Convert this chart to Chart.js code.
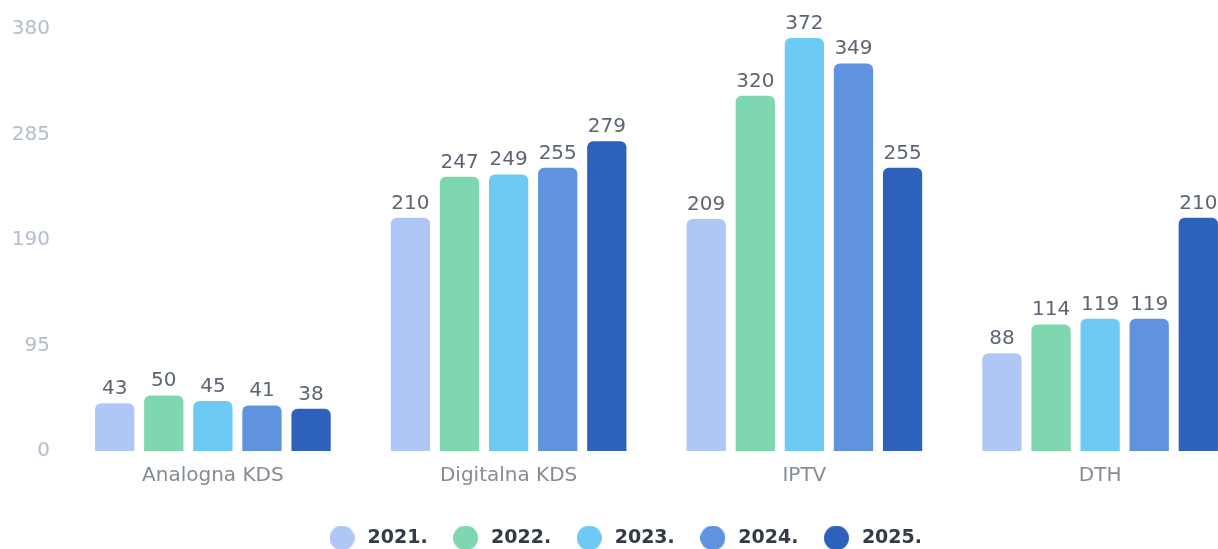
<!DOCTYPE html>
<html>
<head>
<meta charset="utf-8">
<script src="https://cdn.jsdelivr.net/npm/chart.js@4/dist/chart.umd.min.js"></script>
<style>
  html, body { margin: 0; padding: 0; background: #fff; overflow: hidden; }
  #wrap { width: 1260px; height: 549px; position: relative; }
</style>
</head>
<body>
<div id="wrap"><canvas id="chart"></canvas></div>
<script>
const categories = ['Analogna KDS', 'Digitalna KDS', 'IPTV', 'DTH'];
const years = ['2021.', '2022.', '2023.', '2024.', '2025.'];
const values2021 = [43, 210, 209, 88];
const values2022 = [50, 247, 320, 114];
const values2023 = [45, 249, 372, 119];
const values2024 = [41, 255, 349, 119];
const values2025 = [38, 279, 255, 210];
const yTicks = [0, 95, 190, 285, 380];

const colors = ['#afc7f6', '#7ed7ae', '#6ccaf5', '#5f93e0', '#2e61bb'];
const series = [values2021, values2022, values2023, values2024, values2025];
const FONT = '"DejaVu Sans"';

// round legend dots, a bit bigger than the text would give
function dot(color) {
    const c = document.createElement('canvas');
    c.width = 25; c.height = 25;
    const g = c.getContext('2d');
    g.fillStyle = color;
    g.beginPath();
    g.arc(12.5, 12.5, 12.5, 0, Math.PI * 2);
    g.fill();
    return c;
}
const dots = colors.map(dot);

// values above each bar (no datalabels plugin available offline)
const valueLabels = {
    id: 'valueLabels',
    afterDatasetsDraw(chart) {
        const ctx = chart.ctx;
        ctx.save();
        ctx.font = '20px ' + FONT;
        ctx.fillStyle = '#5d6572';
        ctx.textAlign = 'center';
        ctx.textBaseline = 'alphabetic';
        chart.data.datasets.forEach((ds, i) => {
            chart.getDatasetMeta(i).data.forEach((bar, j) => {
                ctx.fillText(ds.data[j], bar.x, bar.y - 9);
            });
        });
        ctx.restore();
    }
};

new Chart(document.getElementById('chart'), {
    type: 'bar',
    data: {
        labels: categories,
        datasets: years.map((y, i) => ({
            label: y,
            data: series[i],
            backgroundColor: colors[i],
            borderWidth: 0,
            borderRadius: { topLeft: 6, topRight: 6 },
            borderSkipped: false,
            categoryPercentage: 0.83,
            barPercentage: 0.8,
        })),
    },
    options: {
        responsive: true,
        maintainAspectRatio: false,
        animation: false,
        layout: { padding: { top: 29, right: 12, bottom: -8.5 } },
        plugins: {
            legend: {
                position: 'bottom',
                labels: {
                    usePointStyle: true,
                    pointStyleWidth: 32,
                    padding: 22,
                    font: { family: FONT, size: 19, weight: 'bold' },
                    color: '#343b46',
                    generateLabels(chart) {
                        const items = Chart.defaults.plugins.legend.labels.generateLabels(chart);
                        items.forEach((it, i) => { it.pointStyle = dots[i]; });
                        return items;
                    },
                },
            },
            tooltip: { enabled: false },
        },
        scales: {
            y: {
                min: 0,
                max: 380,
                afterBuildTicks(scale) { scale.ticks = yTicks.map(v => ({ value: v })); },
                afterFit(scale) { scale.width = 65; },
                grid: { display: false, drawTicks: false },
                border: { display: false },
                ticks: { font: { family: FONT, size: 20 }, color: '#b3bdcc', padding: 15 },
            },
            x: {
                afterFit(scale) { scale.height = 55.5; },
                grid: { display: false, drawTicks: false },
                border: { display: false },
                ticks: { font: { family: FONT, size: 20 }, color: '#858b94', padding: 13 },
            },
        },
    },
    plugins: [valueLabels],
});
</script>
</body>
</html>
